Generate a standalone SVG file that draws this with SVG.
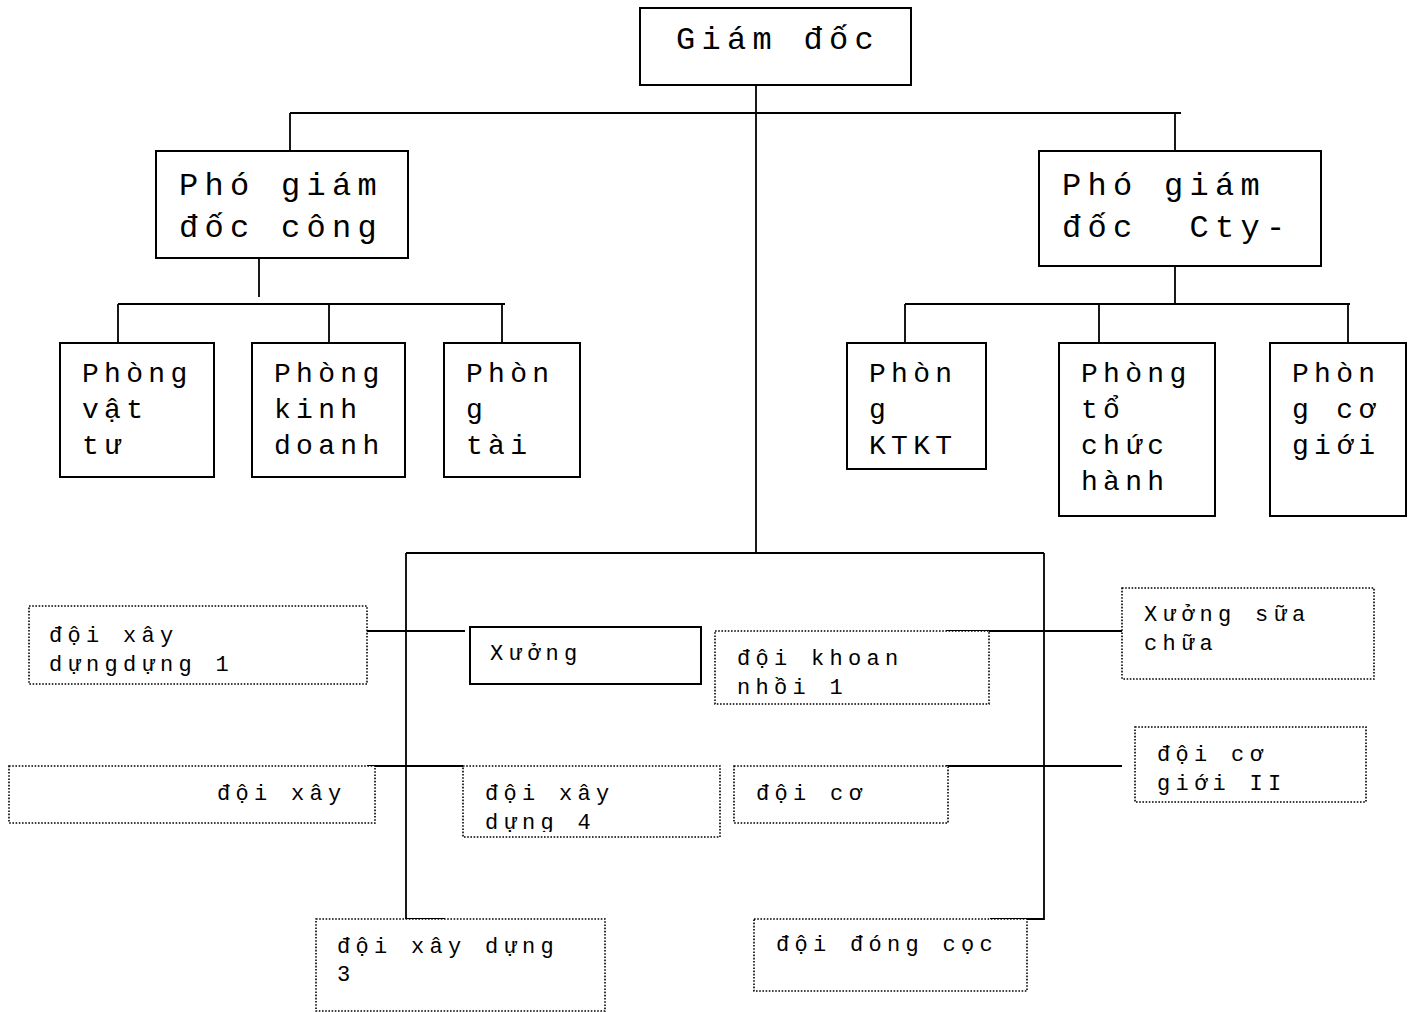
<svg xmlns="http://www.w3.org/2000/svg" width="1415" height="1012" viewBox="0 0 1415 1012">
<style>
.bg{fill:#fff}
.box{fill:#fff;stroke:#000;stroke-width:2}
.dot{fill:#fff;stroke:#000;stroke-width:1.6;stroke-dasharray:1.6 1.6}
.ln{fill:none;stroke:#000;stroke-width:1.8}
text{font-family:"Liberation Mono","DejaVu Sans Mono",monospace;fill:#000;white-space:pre}
.t1{font-size:32px;letter-spacing:6.3px}
.t2{font-size:28px;letter-spacing:5.3px}
.t3{font-size:22px;letter-spacing:5.3px}
</style>
<defs>
<clipPath id="c1"><rect x="29" y="606" width="338" height="70"/></clipPath>
<clipPath id="c2"><rect x="470" y="627" width="231" height="49"/></clipPath>
<clipPath id="c3"><rect x="715" y="631" width="274" height="66"/></clipPath>
<clipPath id="c4"><rect x="1135" y="727" width="231" height="68"/></clipPath>
<clipPath id="c5"><rect x="463" y="766" width="257" height="66"/></clipPath>
</defs>
<rect class="bg" x="0" y="0" width="1415" height="1012"/>
<g id="connectors">
<path class="ln" d="M756 85V553"/>
<path class="ln" d="M290 113H1181" style="stroke-width:2.2"/>
<path class="ln" d="M290 113V151M1175 113V151"/>
<path class="ln" d="M259 258V297"/>
<path class="ln" d="M118 304H505M118 304V343M329 304V343M502 304V343"/>
<path class="ln" d="M1175 266V304"/>
<path class="ln" d="M905 304H1350M905 304V343M1099 304V343M1348 304V343"/>
<path class="ln" d="M406 553H1044"/>
<path class="ln" d="M445 919H406V553M990 919H1044V553"/>
<path class="ln" d="M367 631H465M946 631H1122"/>
<path class="ln" d="M367 766H463M946 766H1122"/>
</g>
<g id="giam-doc"><rect class="box" x="640" y="8" width="271" height="77"/><text class="t1" x="676" y="49">Giám đốc</text></g>
<g id="pgd-cong"><rect class="box" x="156" y="151" width="252" height="107"/><text class="t1" x="179" y="195">Phó giám</text><text class="t1" x="179" y="237">đốc công</text></g>
<g id="pgd-cty"><rect class="box" x="1039" y="151" width="282" height="115"/><text class="t1" x="1062" y="195">Phó giám</text><text class="t1" x="1062" y="237">đốc  Cty-</text></g>
<g id="p-vattu"><rect class="box" x="60" y="343" width="154" height="134"/><text class="t2" x="82" y="382">Phòng</text><text class="t2" x="82" y="418">vật</text><text class="t2" x="82" y="454">tư</text></g>
<g id="p-kinhdoanh"><rect class="box" x="252" y="343" width="153" height="134"/><text class="t2" x="274" y="382">Phòng</text><text class="t2" x="274" y="418">kinh</text><text class="t2" x="274" y="454">doanh</text></g>
<g id="p-tai"><rect class="box" x="444" y="343" width="136" height="134"/><text class="t2" x="466" y="382">Phòn</text><text class="t2" x="466" y="418">g</text><text class="t2" x="466" y="454">tài</text></g>
<g id="p-ktkt"><rect class="box" x="847" y="343" width="139" height="126"/><text class="t2" x="869" y="382">Phòn</text><text class="t2" x="869" y="418">g</text><text class="t2" x="869" y="454">KTKT</text></g>
<g id="p-tochuc"><rect class="box" x="1059" y="343" width="156" height="173"/><text class="t2" x="1081" y="382">Phòng</text><text class="t2" x="1081" y="418">tổ</text><text class="t2" x="1081" y="454">chức</text><text class="t2" x="1081" y="490">hành</text></g>
<g id="p-cogioi"><rect class="box" x="1270" y="343" width="136" height="173"/><text class="t2" x="1292" y="382">Phòn</text><text class="t2" x="1292" y="418">g cơ</text><text class="t2" x="1292" y="454">giới</text></g>
<g id="doi-xd1"><rect class="dot" x="29" y="606" width="338" height="78"/><g clip-path="url(#c1)"><text class="t3" x="49" y="642">đội xây</text><text class="t3" x="49" y="671">dựngdựng 1</text></g></g>
<g id="xuong"><rect class="box" x="470" y="627" width="231" height="57"/><g clip-path="url(#c2)"><text class="t3" x="490" y="660">Xưởng</text></g></g>
<g id="doi-khoan"><rect class="dot" x="715" y="631" width="274" height="73"/><g clip-path="url(#c3)"><text class="t3" x="737" y="665">đội khoan</text><text class="t3" x="737" y="694">nhồi 1</text></g></g>
<g id="xuong-sua"><rect class="dot" x="1122" y="588" width="252" height="91"/><text class="t3" x="1144" y="621">Xưởng sữa</text><text class="t3" x="1144" y="650">chữa</text></g>
<g id="doi-cogioi2"><rect class="dot" x="1135" y="727" width="231" height="75"/><g clip-path="url(#c4)"><text class="t3" x="1157" y="761">đội cơ</text><text class="t3" x="1157" y="790">giới II</text></g></g>
<g id="doi-xay-left"><rect class="dot" x="9" y="766" width="366" height="57"/><text class="t3" x="217" y="800">đội xây</text></g>
<g id="doi-xd4"><rect class="dot" x="463" y="766" width="257" height="71"/><g clip-path="url(#c5)"><text class="t3" x="485" y="800">đội xây</text><text class="t3" x="485" y="829">dựng 4</text></g></g>
<g id="doi-co"><rect class="dot" x="734" y="766" width="214" height="57"/><text class="t3" x="756" y="800">đội cơ</text></g>
<g id="doi-xd3"><rect class="dot" x="316" y="919" width="289" height="92"/><text class="t3" x="337" y="953">đội xây dựng</text><text class="t3" x="337" y="981">3</text></g>
<g id="doi-dong"><rect class="dot" x="754" y="919" width="273" height="72"/><text class="t3" x="776" y="951">đội đóng cọc</text></g>
</svg>
